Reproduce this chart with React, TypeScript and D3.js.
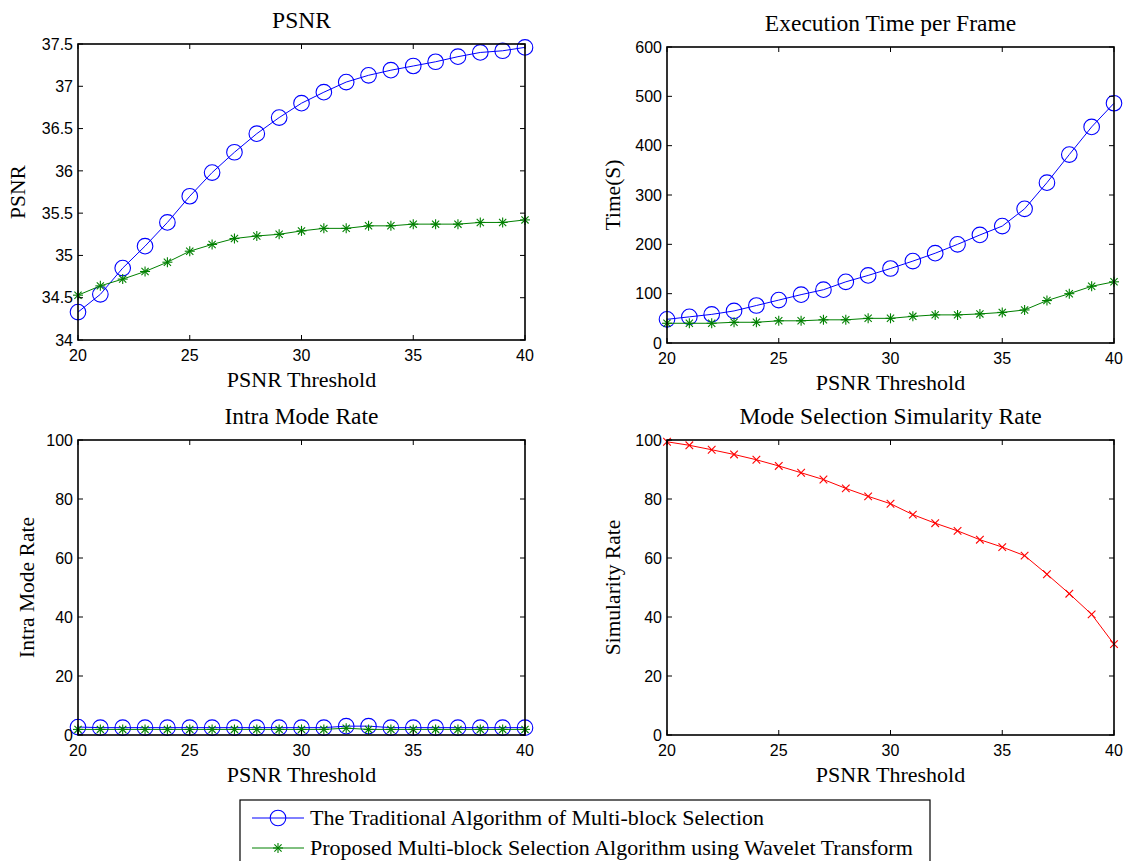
import React from "react";
import * as d3 from "d3";

const thresholds = [20,21,22,23,24,25,26,27,28,29,30,31,32,33,34,35,36,37,38,39,40];
const psnrTraditional = [34.33,34.54,34.85,35.11,35.39,35.70,35.98,36.22,36.44,36.63,36.80,36.93,37.05,37.13,37.19,37.24,37.29,37.35,37.40,37.42,37.46];
const psnrProposed = [34.53,34.64,34.72,34.81,34.92,35.05,35.13,35.20,35.23,35.25,35.29,35.32,35.32,35.35,35.35,35.37,35.37,35.37,35.39,35.39,35.42];
const timeTraditional = [48,53,58,65,76,87,98,108,124,137,151,166,182,200,219,237,272,325,382,438,486];
const timeProposed = [40,40,40,42,42,45,45,47,47,50,50,54,57,57,59,62,67,86,100,115,124];
const intraTraditional = [2.7,2.5,2.5,2.5,2.5,2.5,2.5,2.5,2.5,2.5,2.5,2.5,3.0,3.0,2.5,2.5,2.5,2.5,2.5,2.5,2.5];
const intraProposed = [1.9,1.9,1.9,1.9,1.9,1.9,1.9,1.9,1.9,1.9,1.9,1.9,2.3,1.9,1.9,1.9,1.9,1.9,1.9,1.9,1.9];
const similarity = [99.4,98.2,96.7,95.1,93.3,91.2,88.9,86.6,83.6,80.9,78.4,74.7,71.8,69.2,66.2,63.7,60.8,54.5,47.9,40.9,30.8];

const xTicks = [20,25,30,35,40];
const psnrTicks = [34,34.5,35,35.5,36,36.5,37,37.5];
const timeTicks = [0,100,200,300,400,500,600];
const rateTicks = [0,20,40,60,80,100];

const legendLabels = [
  "The Traditional Algorithm of Multi-block Selection",
  "Proposed Multi-block Selection Algorithm using Wavelet Transform",
];

const BLUE = "#0000ff";
const GREEN = "#008000";
const RED = "#ff0000";
const SERIF = "'Liberation Serif', 'Times New Roman', serif";
const SANS = "'Liberation Sans', Arial, sans-serif";

type Series = { values: number[]; color: string; marker: "o" | "*" | "x" };

function Marker({ x, y, type, color }: { x: number; y: number; type: string; color: string }) {
  if (type === "o") return <circle cx={x} cy={y} r={7.8} fill="none" stroke={color} strokeWidth={1.1} />;
  if (type === "*") {
    const r = 5, d = 3.6;
    return (
      <g stroke={color} strokeWidth={1.1}>
        <line x1={x - r} y1={y} x2={x + r} y2={y} />
        <line x1={x} y1={y - r} x2={x} y2={y + r} />
        <line x1={x - d} y1={y - d} x2={x + d} y2={y + d} />
        <line x1={x - d} y1={y + d} x2={x + d} y2={y - d} />
      </g>
    );
  }
  const d = 3.8;
  return (
    <g stroke={color} strokeWidth={1.1}>
      <line x1={x - d} y1={y - d} x2={x + d} y2={y + d} />
      <line x1={x - d} y1={y + d} x2={x + d} y2={y - d} />
    </g>
  );
}

function Panel({
  left, top, right, bottom, yDomain, yTicks, yFmt, title, ylabel, ylabelOffset, series,
}: {
  left: number; top: number; right: number; bottom: number;
  yDomain: [number, number]; yTicks: number[]; yFmt: (v: number) => string;
  title: string; ylabel: string; ylabelOffset: number; series: Series[];
}) {
  const x = d3.scaleLinear().domain([20, 40]).range([left, right]);
  const y = d3.scaleLinear().domain(yDomain).range([bottom, top]);
  const tl = 5;
  const line = d3.line<number>().x((_, i) => x(thresholds[i])).y((v) => y(v));
  const cx = (left + right) / 2;
  return (
    <g>
      {series.map((s, si) => (
        <g key={si}>
          <path d={line(s.values) || ""} fill="none" stroke={s.color} strokeWidth={1} />
          {s.values.map((v, i) => (
            <Marker key={i} x={x(thresholds[i])} y={y(v)} type={s.marker} color={s.color} />
          ))}
        </g>
      ))}
      <rect x={left} y={top} width={right - left} height={bottom - top} fill="none" stroke="#000" strokeWidth={1.6} />
      {xTicks.map((t) => (
        <g key={"x" + t}>
          <line x1={x(t)} x2={x(t)} y1={bottom} y2={bottom - tl} stroke="#000" strokeWidth={1} />
          <line x1={x(t)} x2={x(t)} y1={top} y2={top + tl} stroke="#000" strokeWidth={1} />
          <text x={x(t)} y={bottom + 21} textAnchor="middle" fontFamily={SANS} fontSize={16} fill="#000">{t}</text>
        </g>
      ))}
      {yTicks.map((t) => (
        <g key={"y" + t}>
          <line x1={left} x2={left + tl} y1={y(t)} y2={y(t)} stroke="#000" strokeWidth={1} />
          <line x1={right} x2={right - tl} y1={y(t)} y2={y(t)} stroke="#000" strokeWidth={1} />
          <text x={left - 5} y={y(t)} dy="0.36em" textAnchor="end" fontFamily={SANS} fontSize={16} fill="#000">{yFmt(t)}</text>
        </g>
      ))}
      <text x={cx} y={top - 16} textAnchor="middle" fontFamily={SERIF} fontSize={23.5} fill="#000">{title}</text>
      <text x={cx} y={bottom + 47} textAnchor="middle" fontFamily={SERIF} fontSize={22} fill="#000">PSNR Threshold</text>
      <text transform={`translate(${left - ylabelOffset},${(top + bottom) / 2}) rotate(-90)`} textAnchor="middle" fontFamily={SERIF} fontSize={21.5} fill="#000">{ylabel}</text>
    </g>
  );
}

export default function App() {
  const fmt = (v: number) => String(v);
  return (
    <svg width={1126} height={861} style={{ position: "absolute", left: 0, top: 0, background: "#fff" }}>
      <rect width={1126} height={861} fill="#fff" />
      <Panel left={78} right={525} top={44} bottom={340} yDomain={[34, 37.5]} yTicks={psnrTicks} yFmt={fmt}
        title="PSNR" ylabel="PSNR" ylabelOffset={53}
        series={[{ values: psnrTraditional, color: BLUE, marker: "o" }, { values: psnrProposed, color: GREEN, marker: "*" }]} />
      <Panel left={667} right={1114} top={47} bottom={343} yDomain={[0, 600]} yTicks={timeTicks} yFmt={fmt}
        title="Execution Time per Frame" ylabel="Time(S)" ylabelOffset={47}
        series={[{ values: timeTraditional, color: BLUE, marker: "o" }, { values: timeProposed, color: GREEN, marker: "*" }]} />
      <Panel left={78} right={525} top={440} bottom={735} yDomain={[0, 100]} yTicks={rateTicks} yFmt={fmt}
        title="Intra Mode Rate" ylabel="Intra Mode Rate" ylabelOffset={44}
        series={[{ values: intraTraditional, color: BLUE, marker: "o" }, { values: intraProposed, color: GREEN, marker: "*" }]} />
      <Panel left={667} right={1114} top={440} bottom={735} yDomain={[0, 100]} yTicks={rateTicks} yFmt={fmt}
        title="Mode Selection Simularity Rate" ylabel="Simularity Rate" ylabelOffset={47}
        series={[{ values: similarity, color: RED, marker: "x" }]} />
      <g>
        <rect x={240} y={800} width={690} height={62} fill="#fff" stroke="#000" strokeWidth={1.2} />
        {legendLabels.map((lab, i) => {
          const ly = 818 + i * 30;
          const s = i === 0 ? { c: BLUE, m: "o" } : { c: GREEN, m: "*" };
          return (
            <g key={i}>
              <line x1={252} x2={304} y1={ly} y2={ly} stroke={s.c} strokeWidth={1} />
              <Marker x={278} y={ly} type={s.m} color={s.c} />
              <text x={310} y={ly} dy="0.33em" fontFamily={SERIF} fontSize={22} fill="#000">{lab}</text>
            </g>
          );
        })}
      </g>
    </svg>
  );
}
